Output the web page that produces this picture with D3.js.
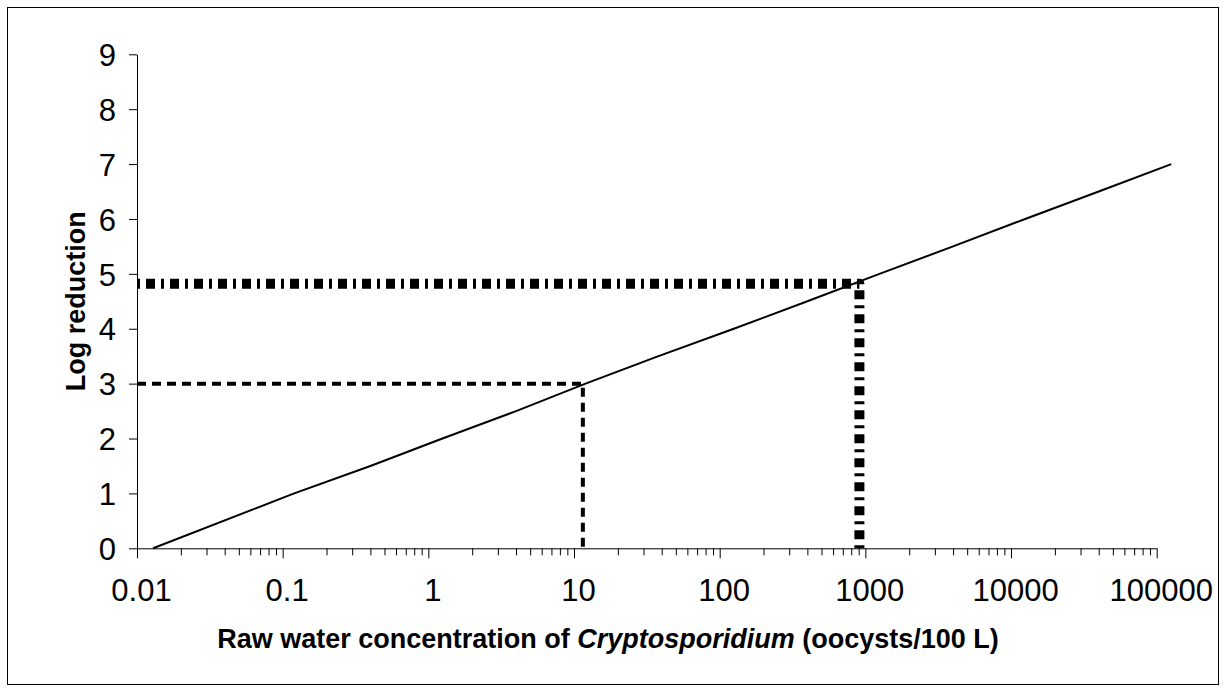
<!DOCTYPE html>
<html>
<head>
<meta charset="UTF-8" />
<script src="https://d3js.org/d3.v7.min.js"></script>
<style>
  body { margin: 0; background: #fff; }
  svg { font-family: Arial, "Liberation Sans", sans-serif; }
  .tick text { font-size: 31px; fill: #000; }
  .axis-title { font-size: 27px; font-weight: bold; }
</style>
</head>
<body>
<svg width="1226" height="692"></svg>
<script>
  // log reduction curve
  const concentration = [0.0129, 0.12, 0.4, 1.25, 4, 12, 38, 125, 400, 1250, 4000, 12500, 40000, 126000];
  const logReduction  = [0,      1,    1.5, 2,   2.5, 3,  3.5, 4,   4.5, 5,    5.5,  6,     6.5,   7];

  // reading guides
  const guide3 = [[0.01, 3], [11.5, 3], [11.5, 0]];
  const guide48 = [[0.01, 4.82], [910, 4.82], [910, 0]];

  const xMajor = [0.01, 0.1, 1, 10, 100, 1000, 10000, 100000];
  const xLabels = ["0.01", "0.1", "1", "10", "100", "1000", "10000", "100000"];
  const yTicks = [0, 1, 2, 3, 4, 5, 6, 7, 8, 9];

  const svg = d3.select("svg");

  // chart border
  svg.append("rect")
    .attr("x", 7.5).attr("y", 7.5)
    .attr("width", 1211).attr("height", 677)
    .attr("fill", "none").attr("stroke", "#000").attr("stroke-width", 1);

  const x = d3.scaleLog().domain([0.01, 100000]).range([137, 1156.7]);
  const y = d3.scaleLinear().domain([0, 9]).range([548.3, 54.3]);

  // minor ticks 2..9 in each decade
  const xMinor = [];
  xMajor.slice(0, -1).forEach(d => {
    for (let k = 2; k <= 9; k++) xMinor.push(d * k);
  });

  svg.append("g")
    .attr("transform", `translate(0,${y(0)})`)
    .call(d3.axisBottom(x).tickValues(xMinor).tickSize(7).tickFormat(""))
    .call(g => g.select(".domain").remove())
    .selectAll("line").attr("stroke", "#000");

  const xAxis = svg.append("g")
    .attr("transform", `translate(0,${y(0)})`)
    .call(d3.axisBottom(x).tickValues(xMajor).tickSize(10).tickSizeOuter(0)
      .tickFormat((d, i) => xLabels[i]));
  xAxis.selectAll("text").attr("dy", 0).attr("y", 53).attr("dx", 4);
  xAxis.selectAll("line, path").attr("stroke", "#000");

  const yAxis = svg.append("g")
    .attr("transform", `translate(${x(0.01)},0)`)
    .call(d3.axisLeft(y).tickValues(yTicks).tickSize(8).tickSizeOuter(0).tickPadding(13));
  yAxis.selectAll("text").attr("dy", "0.36em");
  yAxis.selectAll("line, path").attr("stroke", "#000");

  const line = d3.line().x(d => x(d[0])).y(d => y(d[1]));

  svg.append("path")
    .datum(guide3)
    .attr("d", line)
    .attr("fill", "none")
    .attr("stroke", "#000")
    .attr("stroke-width", 4)
    .attr("stroke-dasharray", "9,6");

  svg.append("path")
    .datum(guide48)
    .attr("d", line)
    .attr("fill", "none")
    .attr("stroke", "#000")
    .attr("stroke-width", 10)
    .attr("stroke-linejoin", "round")
    .attr("stroke-dasharray", "9,6,3,6")
    .attr("stroke-dashoffset", -9);

  svg.append("path")
    .datum(concentration.map((c, i) => [c, logReduction[i]]))
    .attr("d", line)
    .attr("fill", "none")
    .attr("stroke", "#000")
    .attr("stroke-width", 2);

  // axis titles
  const xt = svg.append("text")
    .attr("class", "axis-title")
    .attr("x", 608).attr("y", 648)
    .attr("text-anchor", "middle");
  xt.append("tspan").text("Raw water concentration of ");
  xt.append("tspan").attr("font-style", "italic").text("Cryptosporidium");
  xt.append("tspan").text(" (oocysts/100 L)");

  svg.append("text")
    .attr("class", "axis-title")
    .attr("transform", `translate(85,${(y(0) + y(9)) / 2}) rotate(-90)`)
    .attr("text-anchor", "middle")
    .text("Log reduction");
</script>
</body>
</html>
